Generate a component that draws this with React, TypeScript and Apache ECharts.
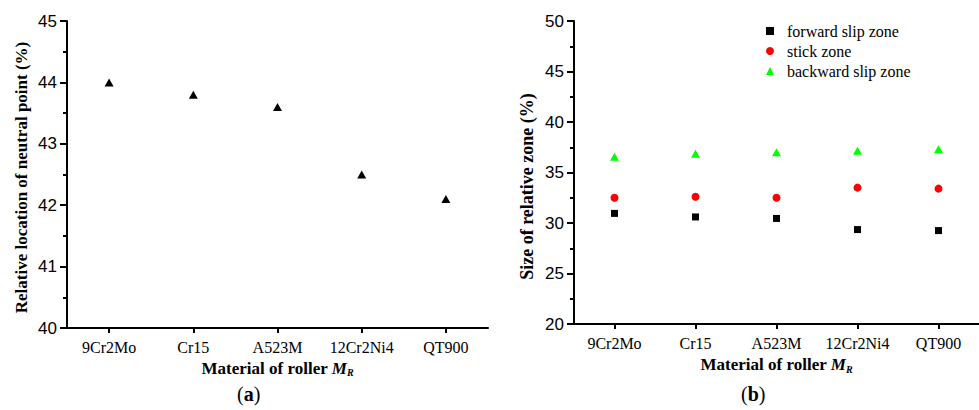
import React, { useEffect, useRef } from "react";
import * as echarts from "echarts";

// Roller materials along both horizontal axes
const materials = ["9Cr2Mo", "Cr15", "A523M", "12Cr2Ni4", "QT900"];

// (a) relative location of the neutral point, %
const neutralPoint = [44.0, 43.8, 43.6, 42.5, 42.1];

// (b) size of each relative zone, %
const forwardSlip = [30.95, 30.6, 30.45, 29.35, 29.25];
const stickZone = [32.5, 32.6, 32.5, 33.5, 33.4];
const backwardSlip = [36.55, 36.85, 37.0, 37.15, 37.3];

const legendNames = ["forward slip zone", "stick zone", "backward slip zone"];

const SERIF = "'Liberation Serif', 'Times New Roman', serif";
const SANS = "'Liberation Sans', Arial, sans-serif";

const xTitle = {
  name: "Material of roller {i|M}{s|R}",
  nameLocation: "middle" as const,
  nameTextStyle: {
    fontFamily: SERIF,
    fontWeight: "bold" as const,
    fontSize: 17,
    color: "#000",
    rich: {
      i: { fontFamily: SERIF, fontWeight: "bold", fontStyle: "italic", fontSize: 17, color: "#000" },
      s: {
        fontFamily: SERIF,
        fontWeight: "bold",
        fontStyle: "italic",
        fontSize: 10,
        color: "#000",
        padding: [9, 0, 0, 0],
      },
    },
  },
};

const axisLine = { show: true, lineStyle: { color: "#000", width: 2 } };

function categoryAxis(gridIndex: number, nameGap: number) {
  return {
    type: "category" as const,
    gridIndex,
    data: materials,
    boundaryGap: true,
    axisLine,
    axisTick: { show: true, alignWithLabel: true, length: 5, lineStyle: { color: "#000", width: 2 } },
    axisLabel: { fontFamily: SERIF, fontSize: 16, color: "#000", margin: 11, interval: 0 },
    splitLine: { show: false },
    ...xTitle,
    nameGap,
  };
}

function valueAxis(
  gridIndex: number,
  min: number,
  max: number,
  interval: number,
  name: string,
  nameGap: number,
  nameSize: number,
  namePadding: number[]
) {
  return {
    type: "value" as const,
    gridIndex,
    min,
    max,
    interval,
    axisLine,
    axisTick: { show: true, length: 7, lineStyle: { color: "#000", width: 2 } },
    minorTick: { show: true, splitNumber: 2, length: 4, lineStyle: { color: "#000", width: 2 } },
    axisLabel: { fontFamily: SANS, fontSize: 17, color: "#000", margin: 10 },
    splitLine: { show: false },
    name,
    nameLocation: "middle" as const,
    nameGap,
    nameTextStyle: {
      fontFamily: SERIF,
      fontWeight: "bold" as const,
      fontSize: nameSize,
      color: "#000",
      padding: namePadding,
    },
  };
}

export default function App() {
  const ref = useRef<HTMLDivElement>(null);

  useEffect(() => {
    if (!ref.current) return;
    const chart = echarts.init(ref.current, null, { renderer: "svg" });
    chart.setOption({
      animation: false,
      backgroundColor: "#fff",
      grid: [
        { left: 67, top: 21, width: 421, height: 307 },
        { left: 574, top: 21, width: 416, height: 303 },
      ],
      xAxis: [categoryAxis(0, 30), categoryAxis(1, 31)],
      yAxis: [
        valueAxis(0, 40, 45, 1, "Relative location of neutral point (%)", 37, 17, [0, 6, 0, 0]),
        valueAxis(1, 20, 50, 5, "Size of relative zone (%)", 38, 18, [0, 28, 0, 0]),
      ],
      legend: {
        data: legendNames,
        orient: "vertical",
        left: 761,
        top: 18,
        itemWidth: 8,
        itemHeight: 8,
        itemGap: 4,
        textStyle: { fontFamily: SERIF, fontSize: 16, color: "#000", padding: [0, 0, 0, 8] },
      },
      series: [
        {
          type: "scatter",
          xAxisIndex: 0,
          yAxisIndex: 0,
          data: neutralPoint,
          symbol: "triangle",
          symbolSize: [9, 8],
          itemStyle: { color: "#000", opacity: 1 },
        },
        {
          name: legendNames[0],
          type: "scatter",
          xAxisIndex: 1,
          yAxisIndex: 1,
          data: forwardSlip,
          symbol: "rect",
          symbolSize: 7,
          itemStyle: { color: "#000", opacity: 1 },
        },
        {
          name: legendNames[1],
          type: "scatter",
          xAxisIndex: 1,
          yAxisIndex: 1,
          data: stickZone,
          symbol: "circle",
          symbolSize: 8,
          itemStyle: { color: "#ff0000", opacity: 1 },
        },
        {
          name: legendNames[2],
          type: "scatter",
          xAxisIndex: 1,
          yAxisIndex: 1,
          data: backwardSlip,
          symbol: "triangle",
          symbolSize: [9, 8],
          itemStyle: { color: "#00ff00", opacity: 1 },
        },
      ],
      graphic: [
        {
          type: "text",
          left: 251 - 14,
          top: 384,
          style: {
            text: "({b|a})",
            font: `20px ${SERIF}`,
            fill: "#000",
            rich: { b: { fontWeight: "bold", fontSize: 20, fontFamily: SERIF, fill: "#000" } },
          },
        },
        {
          type: "text",
          left: 755 - 14,
          top: 384,
          style: {
            text: "({b|b})",
            font: `20px ${SERIF}`,
            fill: "#000",
            rich: { b: { fontWeight: "bold", fontSize: 20, fontFamily: SERIF, fill: "#000" } },
          },
        },
      ],
    });
    return () => chart.dispose();
  }, []);

  return (
    <div
      ref={ref}
      style={{ position: "fixed", left: 0, top: 0, width: 979, height: 410, background: "#fff" }}
    />
  );
}
